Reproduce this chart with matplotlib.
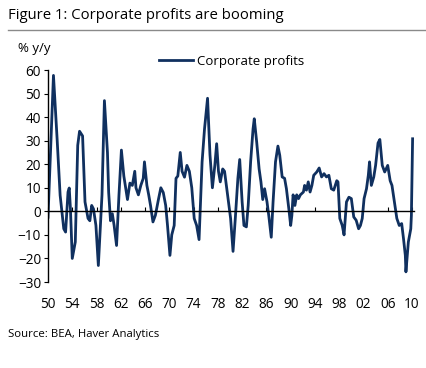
import matplotlib
matplotlib.use('Agg')
import matplotlib.pyplot as plt
from matplotlib.lines import Line2D

plt.rcParams['font.family'] = ['Open Sans', 'DejaVu Sans']

# corporate profits, % y/y
years = [1950.0, 1950.9, 1951.5, 1952.0, 1952.6, 1952.9, 1953.3, 1953.5, 1953.7, 1954.0,
         1954.5, 1954.9, 1955.2, 1955.7, 1956.1, 1956.6, 1956.9, 1957.2, 1957.5, 1957.9,
         1958.3, 1958.9, 1959.3, 1959.8, 1960.0, 1960.3, 1960.6, 1960.9, 1961.3, 1961.7,
         1962.1, 1962.5, 1963.1, 1963.5, 1963.9, 1964.3, 1964.5, 1964.9, 1965.3, 1965.7,
         1965.9, 1966.3, 1966.6, 1966.9, 1967.3, 1967.7, 1968.2, 1968.6, 1969.0, 1969.4,
         1969.7, 1970.1, 1970.4, 1970.8, 1971.1, 1971.4, 1971.8, 1972.1, 1972.5, 1972.9,
         1973.3, 1973.7, 1974.1, 1974.5, 1974.9, 1975.4, 1975.8, 1976.3, 1976.7, 1977.1,
         1977.5, 1977.8, 1978.1, 1978.4, 1978.8, 1979.1, 1979.4, 1979.9, 1980.1, 1980.5,
         1980.9, 1981.3, 1981.6, 1982.0, 1982.3, 1982.7, 1983.0, 1983.4, 1983.8, 1984.0,
         1984.4, 1984.8, 1985.1, 1985.4, 1985.7, 1986.1, 1986.4, 1986.8, 1987.1, 1987.5,
         1987.9, 1988.2, 1988.6, 1989.0, 1989.3, 1989.7, 1990.0, 1990.2, 1990.4, 1990.7,
         1991.0, 1991.3, 1991.6, 1992.1, 1992.3, 1992.6, 1992.9, 1993.2, 1993.5, 1993.8,
         1994.3, 1994.7, 1995.1, 1995.5, 1995.9, 1996.3, 1996.7, 1997.1, 1997.6, 1997.8,
         1998.1, 1998.5, 1998.8, 1999.2, 1999.6, 2000.0, 2000.4, 2000.8, 2001.2, 2001.5,
         2001.8, 2002.1, 2002.5, 2002.8, 2003.0, 2003.3, 2003.7, 2004.0, 2004.4, 2004.7,
         2005.1, 2005.5, 2006.0, 2006.4, 2006.7, 2007.1, 2007.5, 2007.9, 2008.3, 2008.6,
         2008.9, 2009.0, 2009.4, 2009.8, 2009.9, 2010.1]
profits = [-2.5, 57.7, 30.8, 6.8, -7.4, -8.8, 8.2, 9.9, 1, -20,
           -13, 28, 34, 32, 4, -3, -4, 2.5, 1, -6,
           -23, 7, 47, 25, 8, -4, -1, -6, -14.5, 7,
           26, 15, 5, 12, 11, 17, 10, 7, 11, 14,
           21, 11, 7, 2.5, -4.5, -1.7, 5, 10, 8, 2.5,
           -6, -18.7, -10, -6, 14, 15, 25, 17, 14.5, 19.5,
           17, 10, -3, -6, -12, 21, 35, 48, 24, 10,
           19.5, 28.7, 17, 12.5, 18, 17, 11, 1, -3, -17,
           -2, 14, 22, 4, -6, -6.6, 2.5, 21, 35, 39.3,
           29.4, 18, 12.5, 5, 9.6, 4, -2, -11, 4, 21,
           27.7, 23.8, 14.6, 14, 9.6, 1, -6, -1.7, 7, 2.5,
           7, 5.4, 7, 8.2, 11, 9, 12.5, 8.2, 11, 15.3,
           16.7, 18.4, 14.6, 16, 14.6, 15.3, 9.6, 9, 13, 12.5,
           -3, -6, -10, 4, 6, 5.4, -2.4, -3.8, -7.4, -6,
           -3, 5.4, 9.6, 15.3, 21, 11, 14.6, 19.5, 29, 30.5,
           19.5, 16.7, 19.5, 13, 11, 4, -3, -6, -5.2, -11.6,
           -18.7, -25.7, -13, -7.4, -1.7, 30.8]

xticks = list(range(1950, 2011, 4))
xlabels = ['%02d' % (y % 100) for y in xticks]
yticks = list(range(-30, 61, 10))

fig = plt.figure(figsize=(4.27, 3.68), dpi=100)
ax = fig.add_axes([48 / 427, 1 - 282 / 368, 366 / 427, 212 / 368])

ax.plot(years, profits, color='#10305f', lw=2.0, label='Corporate profits',
        solid_joinstyle='round')

ax.set_xlim(1950, 2010.33)
ax.set_ylim(-30, 60)
ax.set_yticks(yticks)
ax.set_xticks(xticks)
ax.set_xticklabels(xlabels)

for s in ['top', 'right']:
    ax.spines[s].set_visible(False)
ax.spines['bottom'].set_position(('data', 0))
ax.spines['bottom'].set_linewidth(1.0)
ax.spines['left'].set_linewidth(1.0)
ax.tick_params(axis='y', direction='out', length=3, labelsize=9.8, pad=2)
ax.tick_params(axis='x', direction='in', length=3, labelsize=9.8, pad=62)

fig.text(8 / 427, 1 - 8 / 368, 'Figure 1: Corporate profits are booming',
         fontsize=10.7, va='top', ha='left')
fig.add_artist(Line2D([8 / 427, 1], [1 - 29.5 / 368] * 2, color='#8a8a8a', lw=1.0))
fig.text(18 / 427, 1 - 42 / 368, '% y/y', fontsize=9.5, va='top', ha='left')
fig.text(8 / 427, 1 - 334 / 368, 'Source: BEA, Haver Analytics',
         fontsize=8.2, va='center', ha='left')

ax.legend(loc='center left', bbox_to_anchor=(159 / 427, 1 - 61 / 368),
          bbox_transform=fig.transFigure, frameon=False, fontsize=9.5,
          handlelength=2.6, handletextpad=0.25, borderpad=0, borderaxespad=0)

fig.savefig('out.png', dpi=100)
